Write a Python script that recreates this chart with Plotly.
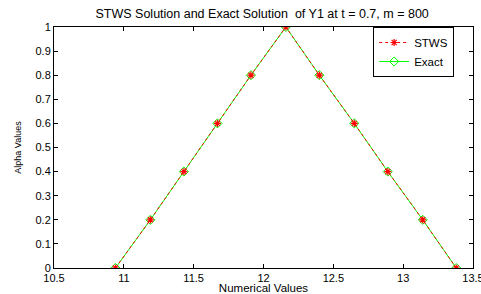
import plotly.graph_objects as go

x_vals = [10.94, 11.19, 11.43, 11.67, 11.91, 12.16, 12.40, 12.65, 12.89, 13.14, 13.38]
stws = [0, 0.2, 0.4, 0.6, 0.8, 1.0, 0.8, 0.6, 0.4, 0.2, 0]
exact = [0, 0.2, 0.4, 0.6, 0.8, 1.0, 0.8, 0.6, 0.4, 0.2, 0]
x_ticks = [10.5, 11, 11.5, 12, 12.5, 13, 13.5]
x_ticktext = ["10.5", "11", "11.5", "12", "12.5", "13", "13.5"]
y_ticks = [0, 0.1, 0.2, 0.3, 0.4, 0.5, 0.6, 0.7, 0.8, 0.9, 1]
y_ticktext = ["0", "0.1", "0.2", "0.3", "0.4", "0.5", "0.6", "0.7", "0.8", "0.9", "1"]

FONT = "Liberation Sans, Arial"

fig = go.Figure()
fig.add_trace(go.Scatter(
    x=x_vals, y=exact, name="Exact", mode="lines+markers",
    line=dict(color="#00ff00", width=1),
    marker=dict(symbol="diamond-open", size=7, color="#00ff00", line=dict(width=1, color="#00ff00")),
    legendrank=2,
))
fig.add_trace(go.Scatter(
    x=x_vals, y=stws, name="STWS", mode="lines+markers",
    line=dict(color="#ff0000", width=1, dash="dot"),
    marker=dict(symbol="asterisk-open", size=6, color="#ff0000", line=dict(width=1.2, color="#ff0000")),
    legendrank=1,
))

axis_common = dict(
    showgrid=False, zeroline=False, showline=True, linecolor="black", linewidth=1,
    mirror="ticks", ticks="inside", ticklen=4, tickcolor="black",
    tickfont=dict(family=FONT, size=11, color="black"),
    automargin=False, ticklabeloverflow="allow",
)
fig.update_xaxes(range=[10.5, 13.5], tickvals=x_ticks, ticktext=x_ticktext,
                 title=dict(text="Numerical Values", font=dict(family=FONT, size=11.5, color="black"), standoff=0),
                 **axis_common)
fig.update_yaxes(range=[0, 1], tickvals=y_ticks, ticktext=y_ticktext,
                 title=dict(text="Alpha Values", font=dict(family=FONT, size=9, color="black"), standoff=12),
                 **axis_common)

fig.update_layout(
    width=481, height=294,
    margin=dict(l=54, r=8, t=27, b=26),
    paper_bgcolor="white", plot_bgcolor="white",
    title=dict(text="STWS Solution and Exact Solution  of Y1 at t = 0.7, m = 800",
               font=dict(family=FONT, size=12.5, color="black"),
               x=0.545, xref="container", xanchor="center", y=0.952, yanchor="middle", automargin=False),
    legend=dict(x=0.955, y=1.0, xanchor="right", yanchor="top",
                bordercolor="black", borderwidth=1, bgcolor="white",
                font=dict(family=FONT, size=11.5, color="black"),
                itemwidth=30, tracegroupgap=0),
    showlegend=True,
)

fig.write_html("out.html", config={"displayModeBar": False},
               post_script="document.body.style.margin='0';document.body.style.overflow='hidden';")
